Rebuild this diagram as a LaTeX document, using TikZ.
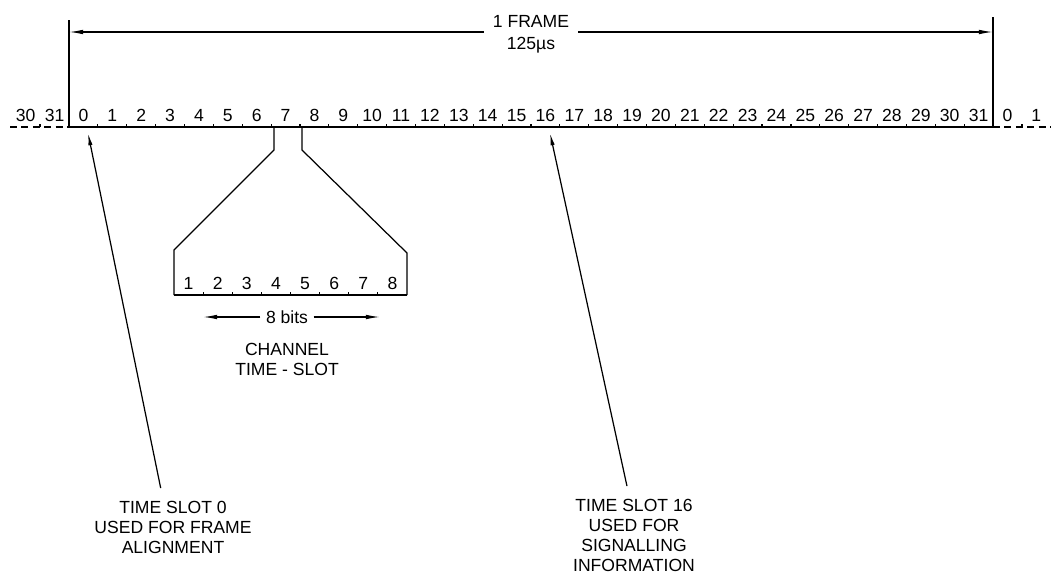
\documentclass[tikz,border=0pt]{standalone}
\usepackage{fontspec}
\setmainfont{Liberation Sans}
\usetikzlibrary{arrows.meta, positioning}

\tikzset{
  num/.style={inner sep=0pt, anchor=base, font=\fontsize{10}{11}\selectfont},
  lbl/.style={align=center, inner sep=1pt, font=\fontsize{10}{11.4}\selectfont},
  axis/.style={line width=0.9pt},
  thinline/.style={line width=0.7pt},
  dim/.style={line width=0.7pt, -{Latex[length=8pt,width=2.6pt]}},
  leader/.style={line width=0.7pt, -{Latex[length=7pt,width=2.4pt]}},
}

\begin{document}
\begin{tikzpicture}[x=0.02cm, y=-0.02cm]
        \useasboundingbox (0,0) rectangle (1051,575);
        \coordinate (F0) at (69,127);
        \coordinate (F1) at (993,127);

        % frame of 32 time slots
        \draw[axis] (F0) -- (F1);
        \draw[axis, dash pattern=on 4pt off 2.5pt] (10,127) -- (F0);
        \draw[axis, dash pattern=on 4pt off 2.5pt] (F1) -- (1051,127);
        \foreach \k in {1,...,31}
            \draw[thinline] ({69+\k*28.875},127) -- ++(0,-3);
        \draw[thinline] (40.1,127) -- ++(0,-3);
        \draw[thinline] (1021.9,127) -- ++(0,-3);
        \foreach \n in {0,...,31}
            \node[num] (s\n) at ({69+(\n+0.5)*28.875},121.5) {\n};
        \node[num] (p30) at (25.7,121.5) {30};
        \node[num] (p31) at (54.6,121.5) {31};
        \node[num] (n0) at (1007.4,121.5) {0};
        \node[num] (n1) at (1036.3,121.5) {1};

        % frame length
        \coordinate (T0) at (69,32);
        \coordinate (T1) at (993,32);
        \draw[thinline] (69,20) -- (F0);
        \draw[thinline] (993,17) -- (F1);
        \node[lbl, inner xsep=5pt] (frame) at (531,21) {1 FRAME};
        \node[lbl] (dur) at (531,45) {125µs};
        \draw[dim] (frame.west |- T0) -- (T0);
        \draw[dim] (frame.east |- T1) -- (T1);

        % slot 7 opened out into bits
        \coordinate (B0) at (174,295);
        \coordinate (B1) at (407,295);
        \draw[thinline] (274,127) -- (274,150) -- (174,250) -- (B0);
        \draw[thinline] (302,127) -- (302,150) -- (407,253) -- (B1);
        \draw[axis] (B0) -- (B1);
        \foreach \k in {1,...,7}
            \draw[thinline] ({174+\k*29.125},295) -- ++(0,-3);
        \foreach \b in {1,...,8}
            \node[num] (b\b) at ({174+(\b-0.5)*29.125},289.5) {\b};

        \coordinate (W0) at (203,317);
        \coordinate (W1) at (380,317);
        \node[lbl, inner xsep=3pt] (bits) at (287,317) {8 bits};
        \draw[dim] (bits.west) -- (W0);
        \draw[dim] (bits.east) -- (W1);
        \node[lbl] (chan) at (287,359) {CHANNEL\\TIME - SLOT};

        % notes
        \coordinate (tip0) at (88,133);
        \coordinate (tip16) at (550,133);
        \node[lbl] (note0) at (173,527) {TIME SLOT 0\\USED FOR FRAME\\ALIGNMENT};
        \node[lbl] (note16) at (634,535) {TIME SLOT 16\\USED FOR\\SIGNALLING\\INFORMATION};
        \draw[leader] ([xshift=-7pt,yshift=6pt]note0.north) -- (tip0);
        \draw[leader] ([xshift=-4pt,yshift=6pt]note16.north) -- (tip16);
\end{tikzpicture}
\end{document}
